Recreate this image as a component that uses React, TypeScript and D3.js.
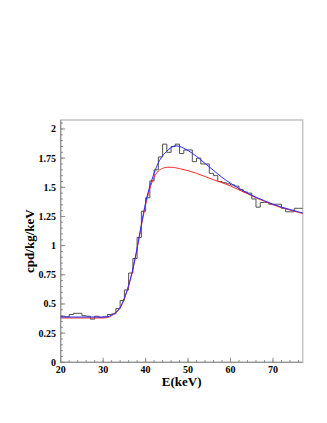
import React from "react";
import * as d3 from "d3";

// Histogram: 1 keV bins, lower edges 20..76
const binLow: number[] = [20,21,22,23,24,25,26,27,28,29,30,31,32,33,34,35,36,37,38,39,40,41,42,43,44,45,46,47,48,49,50,51,52,53,54,55,56,57,58,59,60,61,62,63,64,65,66,67,68,69,70,71,72,73,74,75,76];
const histVals: number[] = [0.395,0.39,0.41,0.42,0.42,0.40,0.395,0.37,0.395,0.385,0.39,0.41,0.415,0.46,0.53,0.62,0.765,0.89,1.07,1.295,1.41,1.555,1.65,1.76,1.87,1.80,1.85,1.87,1.79,1.82,1.82,1.72,1.75,1.70,1.70,1.62,1.60,1.55,1.54,1.53,1.52,1.51,1.48,1.46,1.45,1.40,1.33,1.37,1.37,1.355,1.355,1.355,1.32,1.29,1.29,1.32,1.32];

// Total fit (blue)
const fitE: number[] = [20,25,30,31,32,33,34,35,36,37,38,39,40,41,42,43,44,45,46,47,48,49,50,52,54,56,58,60,62,64,66,68,70,72,74,76,77];
const fitV: number[] = [0.388,0.388,0.388,0.39,0.405,0.43,0.47,0.55,0.66,0.80,0.98,1.18,1.37,1.51,1.62,1.71,1.77,1.81,1.84,1.855,1.85,1.835,1.815,1.765,1.705,1.645,1.585,1.535,1.49,1.45,1.415,1.385,1.355,1.33,1.31,1.29,1.28];

// Component curve (red)
const redE: number[] = [20,25,30,31,32,33,34,35,36,37,38,39,40,41,42,43,44,45,46,47,48,50,52,54,56,58,60,62,64,66,68,70,72,74,76,77];
const redV: number[] = [0.38,0.38,0.38,0.383,0.40,0.425,0.465,0.545,0.655,0.795,0.975,1.17,1.35,1.49,1.585,1.64,1.662,1.672,1.672,1.668,1.66,1.643,1.62,1.592,1.565,1.54,1.512,1.478,1.445,1.41,1.38,1.35,1.325,1.305,1.285,1.275];

const xTicks: number[] = [20,30,40,50,60,70];
const yTicks: number[] = [0,0.25,0.5,0.75,1,1.25,1.5,1.75,2];
const yTickLabels: string[] = ["0","0.25","0.5","0.75","1","1.25","1.5","1.75","2"];

const W = 327, H = 423;
const L = 60.7, R = 302.7, T = 120, B = 362.3;

export default function App() {
  const x = d3.scaleLinear().domain([20, 77]).range([L, R]);
  const y = d3.scaleLinear().domain([0, 2.077]).range([B, T]);

  // histogram step path
  let hp = "";
  histVals.forEach((v, i) => {
    const x0 = x(binLow[i]), x1 = x(binLow[i] + 1), yy = y(v);
    hp += (i === 0 ? `M${x0},${yy}` : `L${x0},${yy}`) + `L${x1},${yy}`;
  });

  const line = d3.line<[number, number]>().x(d => x(d[0])).y(d => y(d[1])).curve(d3.curveMonotoneX);
  const bluePath = line(fitE.map((e, i) => [e, fitV[i]]) as [number, number][]) || "";
  const redPath = line(redE.map((e, i) => [e, redV[i]]) as [number, number][]) || "";

  const xMinor = d3.range(20, 77.01, 2);
  const yMinor = d3.range(0, 2.0771, 0.05);

  const font = "'Liberation Serif', 'Times New Roman', serif";

  return (
    <svg width={W} height={H} style={{ position: "absolute", left: 0, top: 0, background: "#fff" }}>
      <rect x={0} y={0} width={W} height={H} fill="#fff" />
      {/* frame */}
      <rect x={L} y={T} width={R - L} height={B - T} fill="none" stroke="#c4c4c4" strokeWidth={1.5} />
      {/* axes */}
      <line x1={L} x2={L} y1={T} y2={B} stroke="#8a8a8a" strokeWidth={1} />
      <line x1={L} x2={R} y1={B} y2={B} stroke="#8a8a8a" strokeWidth={1} />
      {/* x ticks */}
      {xMinor.map((t, i) => (
        <line key={"xm" + i} x1={x(t)} x2={x(t)} y1={B} y2={B - 2.2} stroke="#8a8a8a" strokeWidth={1} />
      ))}
      {xTicks.map((t, i) => (
        <line key={"xM" + i} x1={x(t)} x2={x(t)} y1={B} y2={B - 4.5} stroke="#8a8a8a" strokeWidth={1} />
      ))}
      {xTicks.map((t, i) => (
        <text key={"xl" + i} x={x(t)} y={373} textAnchor="middle" fontFamily={font} fontWeight="bold" fontSize={10} fill="#000">{t}</text>
      ))}
      {/* y ticks */}
      {yMinor.map((t, i) => (
        <line key={"ym" + i} x1={L} x2={L + 2.2} y1={y(t)} y2={y(t)} stroke="#8a8a8a" strokeWidth={1} />
      ))}
      {yTicks.map((t, i) => (
        <line key={"yM" + i} x1={L} x2={L + 4.5} y1={y(t)} y2={y(t)} stroke="#8a8a8a" strokeWidth={1} />
      ))}
      {yTicks.map((t, i) => (
        <text key={"yl" + i} x={56} y={y(t)} dy="0.35em" textAnchor="end" fontFamily={font} fontWeight="bold" fontSize={10} fill="#000">{yTickLabels[i]}</text>
      ))}
      {/* data */}
      <path d={hp} fill="none" stroke="#505050" strokeWidth={1} />
      <path d={redPath} fill="none" stroke="#ff2a2a" strokeWidth={1} />
      <path d={bluePath} fill="none" stroke="#2a2aff" strokeWidth={1} />
      {/* titles */}
      <text x={(L + R) / 2} y={386} textAnchor="middle" fontFamily={font} fontWeight="bold" fontSize={13} fill="#000">E(keV)</text>
      <text transform={`translate(33.5,${(T + B) / 2}) rotate(-90)`} textAnchor="middle" fontFamily={font} fontWeight="bold" fontSize={13} fill="#000">cpd/kg/keV</text>
    </svg>
  );
}
